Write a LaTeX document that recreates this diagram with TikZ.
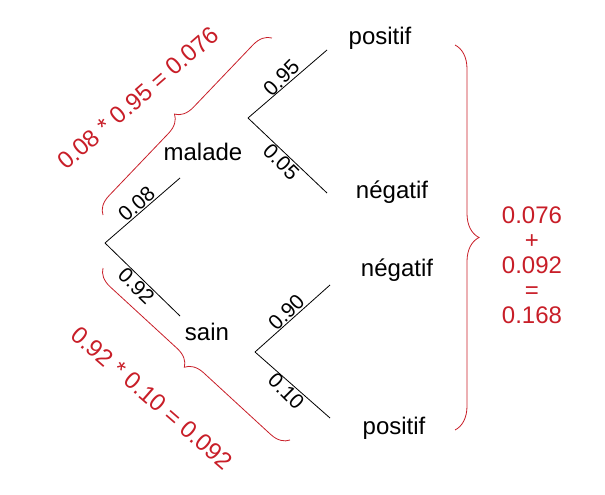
\documentclass[tikz,border=0pt]{standalone}
\usepackage{fontspec}
\setmainfont{Liberation Sans}
\usetikzlibrary{decorations.pathreplacing}
\definecolor{rouge}{RGB}{200,30,40}
\begin{document}
\begin{tikzpicture}[x=1pt,y=-1pt,
txt/.style={font=\fontsize{24}{26}\selectfont},
prob/.style={font=\fontsize{21}{23}\selectfont,inner sep=1pt},
accolade/.style={draw=rouge,thick,decorate,decoration={brace,amplitude=18pt}},
calcul/.style={text=rouge,font=\fontsize{24}{25}\selectfont}]
\useasboundingbox (0,0) rectangle (605,495);

\coordinate (racine) at (105,243);
\coordinate (m) at (180,178);
\coordinate (s) at (180,316);
\coordinate (m0) at (248,118);
\coordinate (m1) at (327,50);
\coordinate (m2) at (327,193);
\coordinate (s0) at (255,352);
\coordinate (s1) at (330,285);
\coordinate (s2) at (330,418);

\node[txt](malade) at (203,152){malade};
\node[txt](sain) at (207,332){sain};
\node[txt](pos1) at (380,38){positif};
\node[txt](neg1) at (392,192){négatif};
\node[txt](neg2) at (397,270){négatif};
\node[txt](pos2) at (394,428){positif};

\begin{scope}[thick]
\draw (racine)--(m) node[prob,pos=.5,rotate=42,anchor=south]{0.08};
\draw (racine)--(s) node[prob,pos=.5,rotate=-44,anchor=north]{0.92};
\draw (m0)--(m1) node[prob,pos=.5,rotate=45,anchor=south]{0.95};
\draw (m0)--(m2) node[prob,pos=.5,rotate=-45,anchor=north]{0.05};
\draw (s0)--(s1) node[prob,pos=.5,rotate=45,anchor=south]{0.90};
\draw (s0)--(s2) node[prob,pos=.5,rotate=-45,anchor=north]{0.10};
\end{scope}

\draw[accolade] (103,215)--(272,38);
\draw[accolade] (290,440)--(103,268);
\draw[accolade,decoration={amplitude=24pt}] (455,45)--(455,430);

\node[calcul,rotate=41](haut) at (138,98){0.08 * 0.95 = 0.076};
\node[calcul,rotate=-41](bas) at (152,398){0.92 * 0.10 = 0.092};
\node[calcul,align=center](somme) at (532,265){0.076\\+\\0.092\\=\\0.168};
\end{tikzpicture}
\end{document}
